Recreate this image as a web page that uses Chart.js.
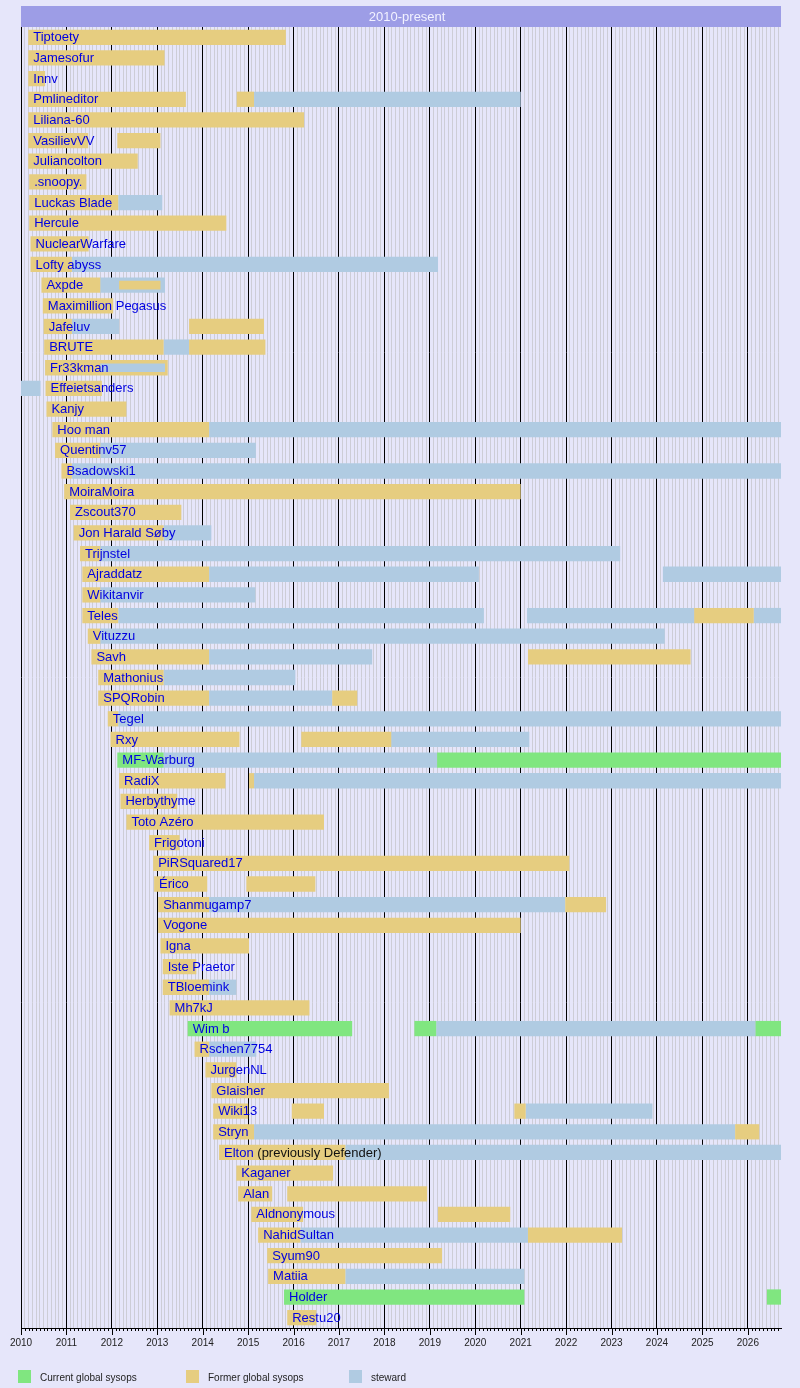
<!DOCTYPE html>
<html>
<head>
<meta charset="utf-8">
<script src="https://cdn.jsdelivr.net/npm/chart.js@4/dist/chart.umd.min.js"></script>
<style>
  body { margin: 0; background: #e6e6fa; }
  #wrap { width: 800px; height: 1388px; position: relative; }
</style>
</head>
<body>
<div id="wrap"><canvas id="chart"></canvas></div>
<script>
// -----------------------------
// DATA
// -----------------------------
const present = 2026.73;

const names = [
  "Tiptoety", "Jamesofur", "Innv", "Pmlineditor", "Liliana-60", "VasilievVV",
  "Juliancolton", ".snoopy.", "Luckas Blade", "Hercule", "NuclearWarfare",
  "Lofty abyss", "Axpde", "Maximillion Pegasus", "Jafeluv", "BRUTE", "Fr33kman",
  "Effeietsanders", "Kanjy", "Hoo man", "Quentinv57", "Bsadowski1", "MoiraMoira",
  "Zscout370", "Jon Harald Søby", "Trijnstel", "Ajraddatz", "Wikitanvir", "Teles",
  "Vituzzu", "Savh", "Mathonius", "SPQRobin", "Tegel", "Rxy", "MF-Warburg", "RadiX",
  "Herbythyme", "Toto Azéro", "Frigotoni", "PiRSquared17", "Érico", "Shanmugamp7",
  "Vogone", "Igna", "Iste Praetor", "TBloemink", "Mh7kJ", "Wim b", "Rschen7754",
  "JurgenNL", "Glaisher", "Wiki13", "Stryn", "Elton (previously Defender)",
  "Kaganer", "Alan", "Aldnonymous", "NahidSultan", "Syum90", "Matiia", "Holder",
  "Restu20"
];

// [name, start, end]
const currentSysops = [
  ["MF-Warburg", 2012.12, 2013.14], ["MF-Warburg", 2019.16, present],
  ["Wim b", 2013.67, 2017.29], ["Wim b", 2018.66, 2019.14], ["Wim b", 2026.17, present],
  ["Holder", 2015.79, 2021.08], ["Holder", 2026.42, present]
];

const formerSysops = [
  ["Tiptoety", 2010.16, 2015.83], ["Jamesofur", 2010.16, 2013.16], ["Innv", 2010.16, 2010.53],
  ["Pmlineditor", 2010.16, 2013.63], ["Pmlineditor", 2014.75, 2015.13],
  ["Liliana-60", 2010.16, 2016.23], ["VasilievVV", 2010.16, 2011.48], ["VasilievVV", 2012.12, 2013.07],
  ["Juliancolton", 2010.16, 2012.57], [".snoopy.", 2010.18, 2011.44], ["Luckas Blade", 2010.18, 2012.14],
  ["Hercule", 2010.18, 2014.52], ["NuclearWarfare", 2010.21, 2011.49], ["Lofty abyss", 2010.21, 2011.12],
  ["Axpde", 2010.45, 2011.745], ["Maximillion Pegasus", 2010.48, 2012.03],
  ["Jafeluv", 2010.50, 2011.12], ["Jafeluv", 2013.70, 2015.35],
  ["BRUTE", 2010.51, 2013.14], ["BRUTE", 2013.70, 2015.38], ["Fr33kman", 2010.53, 2013.23],
  ["Effeietsanders", 2010.54, 2011.78], ["Kanjy", 2010.56, 2012.32], ["Hoo man", 2010.69, 2014.14],
  ["Quentinv57", 2010.75, 2011.745], ["Bsadowski1", 2010.89, 2011.12], ["MoiraMoira", 2010.95, 2021.0],
  ["Zscout370", 2011.08, 2013.53], ["Jon Harald Søby", 2011.16, 2013.14], ["Trijnstel", 2011.30, 2011.745],
  ["Ajraddatz", 2011.35, 2014.14], ["Wikitanvir", 2011.35, 2011.745],
  ["Teles", 2011.35, 2012.14], ["Teles", 2024.82, 2026.13],
  ["Vituzzu", 2011.47, 2011.745], ["Savh", 2011.55, 2014.14], ["Savh", 2021.16, 2024.74],
  ["Mathonius", 2011.70, 2013.14], ["SPQRobin", 2011.70, 2014.14], ["SPQRobin", 2016.85, 2017.40],
  ["Tegel", 2011.91, 2012.14], ["Rxy", 2011.97, 2014.81], ["Rxy", 2016.17, 2018.15],
  ["RadiX", 2012.16, 2014.50], ["RadiX", 2015.02, 2015.13], ["Herbythyme", 2012.19, 2013.44],
  ["Toto Azéro", 2012.32, 2016.67], ["Frigotoni", 2012.82, 2013.49], ["PiRSquared17", 2012.91, 2022.07],
  ["Érico", 2012.93, 2014.10], ["Érico", 2014.96, 2016.48],
  ["Shanmugamp7", 2013.02, 2014.14], ["Shanmugamp7", 2021.98, 2022.88],
  ["Vogone", 2013.02, 2021.0], ["Igna", 2013.07, 2015.02], ["Iste Praetor", 2013.12, 2013.86],
  ["TBloemink", 2013.12, 2014.14], ["Mh7kJ", 2013.27, 2016.35], ["Rschen7754", 2013.82, 2014.14],
  ["JurgenNL", 2014.06, 2014.74], ["Glaisher", 2014.19, 2018.10],
  ["Wiki13", 2014.23, 2015.0], ["Wiki13", 2015.96, 2016.67], ["Wiki13", 2020.86, 2021.11],
  ["Stryn", 2014.23, 2015.13], ["Stryn", 2025.72, 2026.25],
  ["Elton (previously Defender)", 2014.36, 2017.14], ["Kaganer", 2014.74, 2016.87],
  ["Alan", 2014.78, 2015.53], ["Alan", 2015.86, 2018.94],
  ["Aldnonymous", 2015.07, 2016.21], ["Aldnonymous", 2019.18, 2020.77],
  ["NahidSultan", 2015.22, 2016.15], ["NahidSultan", 2021.16, 2023.23],
  ["Syum90", 2015.42, 2019.27], ["Matiia", 2015.44, 2017.14], ["Restu20", 2015.86, 2016.50]
];

// overlapping terms drawn as thin bars on top of the main bar
const formerSysopsThin = [
  ["Axpde", 2012.16, 2013.07]
];
const stewardsThin = [
  ["Fr33kman", 2011.745, 2013.17]
];

const stewards = [
  ["Pmlineditor", 2015.13, 2021.0], ["Luckas Blade", 2012.14, 2013.11], ["Lofty abyss", 2011.12, 2019.18],
  ["Axpde", 2011.745, 2013.17], ["Jafeluv", 2011.12, 2012.16], ["BRUTE", 2013.14, 2013.70],
  ["Effeietsanders", 2010.0, 2010.43], ["Hoo man", 2014.14, present], ["Quentinv57", 2011.745, 2015.17],
  ["Bsadowski1", 2011.12, present], ["Jon Harald Søby", 2013.14, 2014.19], ["Trijnstel", 2011.745, 2023.19],
  ["Ajraddatz", 2014.14, 2020.08], ["Ajraddatz", 2024.13, present], ["Wikitanvir", 2011.745, 2015.16],
  ["Teles", 2012.14, 2020.19], ["Teles", 2021.14, 2024.82], ["Teles", 2026.13, present],
  ["Vituzzu", 2011.745, 2024.17], ["Savh", 2014.14, 2017.73], ["Mathonius", 2013.14, 2016.04],
  ["SPQRobin", 2014.14, 2016.85], ["Tegel", 2012.14, present], ["Rxy", 2018.15, 2021.19],
  ["MF-Warburg", 2013.14, 2019.16], ["RadiX", 2015.13, present], ["Shanmugamp7", 2014.14, 2021.98],
  ["TBloemink", 2014.14, 2014.74], ["Wim b", 2019.14, 2026.17], ["Rschen7754", 2014.14, 2015.18],
  ["Wiki13", 2021.11, 2023.90], ["Stryn", 2015.13, 2025.72], ["Elton (previously Defender)", 2017.14, present],
  ["NahidSultan", 2016.15, 2021.16], ["Matiia", 2017.14, 2021.08]
];

const yearLabels = [2010, 2011, 2012, 2013, 2014, 2015, 2016, 2017, 2018,
                    2019, 2020, 2021, 2022, 2023, 2024, 2025, 2026];
const headerText = "2010-present";
const headerSpan = [2010, 2027];
const legendLabels = ["Current global sysops", "Former global sysops", "steward"];

// -----------------------------
// STYLE
// -----------------------------
const FONT = '"Liberation Sans", Arial, sans-serif';
const colGreen = "#80e680";
const colGold = "#e6cd80";
const colBlue = "#b0cbe2";

// monthly grid, built from the year list
const monthTicks = [];
yearLabels.forEach(y => {
  for (let m = 0; m < 12; m++) {
    const v = y + m / 12;
    if (v <= present) monthTicks.push(v);
  }
});
const isYear = v => Math.abs(v - Math.round(v)) < 1e-6;

const toPoints = segs => segs.map(s => ({ x: [s[1], s[2]], y: s[0] }));

// label position: start of first global sysop term of each row
const labelStart = {};
currentSysops.concat(formerSysops).forEach(s => {
  if (labelStart[s[0]] === undefined || s[1] < labelStart[s[0]]) labelStart[s[0]] = s[1];
});

const decor = {
  id: "decor",
  afterDatasetsDraw(chart) {
    const { ctx, scales: { x, y } } = chart;
    ctx.save();
    ctx.font = "13px " + FONT;
    ctx.textBaseline = "middle";
    ctx.textAlign = "left";
    names.forEach((n, i) => {
      const px = x.getPixelForValue(labelStart[n]) + 5;
      const py = y.getPixelForValue(i) + 0.5;
      const p = n.indexOf(" (");
      const main = p >= 0 ? n.slice(0, p) : n;
      ctx.fillStyle = "#0000e0";
      ctx.fillText(main, px, py);
      if (p >= 0) {
        ctx.fillStyle = "#111";
        ctx.fillText(n.slice(p), px + ctx.measureText(main).width, py);
      }
    });
    ctx.restore();
  },
  afterDraw(chart) {
    const { ctx, chartArea: a, scales: { x } } = chart;
    ctx.save();
    // header bar
    ctx.fillStyle = "#9d9de6";
    ctx.fillRect(a.left, a.top - 21, a.right - a.left, 21);
    ctx.fillStyle = "#f2f2ff";
    ctx.font = "13px " + FONT;
    ctx.textAlign = "center";
    ctx.textBaseline = "middle";
    const hx = (x.getPixelForValue(headerSpan[0]) + x.getPixelForValue(headerSpan[1])) / 2;
    ctx.fillText(headerText, hx, a.top - 10);
    // axis tick marks
    ctx.strokeStyle = "#000";
    ctx.lineWidth = 1;
    monthTicks.forEach(v => {
      const px = Math.round(x.getPixelForValue(v)) + 0.5;
      ctx.beginPath();
      ctx.moveTo(px, a.bottom);
      ctx.lineTo(px, a.bottom + (isYear(v) ? 7 : 3));
      ctx.stroke();
    });
    // legend
    const lx = [18, 186, 349];
    const lc = [colGreen, colGold, colBlue];
    ctx.font = "10px " + FONT;
    ctx.textAlign = "left";
    legendLabels.forEach((t, i) => {
      ctx.fillStyle = lc[i];
      ctx.fillRect(lx[i], 1370, 13, 13);
      ctx.fillStyle = "#222";
      ctx.fillText(t, lx[i] + 22, 1378);
    });
    ctx.restore();
  }
};

const barOpts = { categoryPercentage: 1, barPercentage: 0.74, grouped: false, borderWidth: 0 };

new Chart(document.getElementById("chart"), {
  type: "bar",
  data: {
    labels: names,
    datasets: [
      Object.assign({ label: "thin former", data: toPoints(formerSysopsThin), backgroundColor: colGold }, barOpts, { barPercentage: 0.42 }),
      Object.assign({ label: "thin steward", data: toPoints(stewardsThin), backgroundColor: colBlue }, barOpts, { barPercentage: 0.42 }),
      Object.assign({ label: legendLabels[0], data: toPoints(currentSysops), backgroundColor: colGreen }, barOpts),
      Object.assign({ label: legendLabels[1], data: toPoints(formerSysops), backgroundColor: colGold }, barOpts),
      Object.assign({ label: legendLabels[2], data: toPoints(stewards), backgroundColor: colBlue }, barOpts)
    ]
  },
  options: {
    indexAxis: "y",
    responsive: true,
    maintainAspectRatio: false,
    animation: false,
    layout: { padding: { left: 21, right: 19, top: 27, bottom: 30 } },
    plugins: { legend: { display: false }, tooltip: { enabled: false } },
    scales: {
      y: { type: "category", display: false, grid: { display: false } },
      x: {
        type: "linear",
        min: 2010,
        max: present,
        afterBuildTicks: scale => { scale.ticks = monthTicks.map(v => ({ value: v })); },
        ticks: {
          autoSkip: false, maxRotation: 0, padding: 9, color: "#222",
          font: { size: 10, family: FONT },
          callback: v => isYear(v) ? String(Math.round(v)) : ""
        },
        grid: {
          drawTicks: false,
          lineWidth: 1,
          color: c => (c.tick && isYear(c.tick.value)) ? "#000" : "#cdcdd6"
        },
        border: { display: true, color: "#000", width: 1 }
      }
    }
  },
  plugins: [decor]
});
</script>
</body>
</html>
